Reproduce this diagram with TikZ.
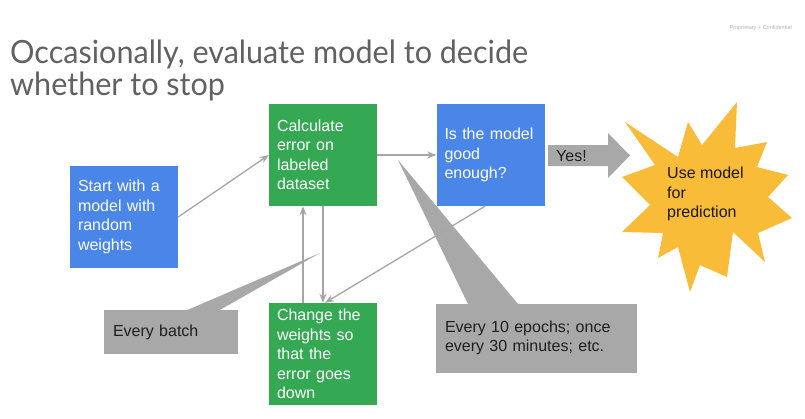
\documentclass[tikz,border=0pt]{standalone}
\usepackage{fontspec}
\setmainfont{Liberation Sans}
\newfontfamily\titlefont[FakeStretch=0.955]{Lato}
\usetikzlibrary{arrows.meta}
\definecolor{gblue}{HTML}{4A86E8}
\definecolor{ggreen}{HTML}{34A853}
\definecolor{ggray}{HTML}{A8A8A8}
\definecolor{lgray}{HTML}{A6A6A6}
\definecolor{gstar}{HTML}{F8BC38}
\definecolor{ttl}{HTML}{616161}
\tikzset{
  box/.style={rectangle, minimum width=108pt, minimum height=102pt, inner xsep=8pt, inner ysep=0pt,
    text width=92pt, align=left, text=white, font=\fontsize{16}{19.5}\selectfont},
  bluebox/.style={box, fill=gblue},
  greenbox/.style={box, fill=ggreen},
  callbox/.style={rectangle, fill=ggray, inner xsep=9pt, inner ysep=0pt, align=left, text=black!88,
    font=\fontsize{16}{19.5}\selectfont},
  conn/.style={draw=lgray, line width=1.3pt, -{Stealth[length=9pt,width=7pt]}},
}
\begin{document}
\begin{tikzpicture}[x=1pt,y=-1pt]
\useasboundingbox (0,0) rectangle (805,418);
% title
\node[anchor=base west, inner sep=0pt, text=ttl, align=left, font=\titlefont\fontsize{32}{32}\selectfont] (title) at (10,95) {Occasionally, evaluate model to decide\\whether to stop};
\node[anchor=base east, inner sep=0pt, text=black!30, font=\fontsize{5.5}{6}\selectfont] (prop) at (792,29) {Proprietary + Confidential};
% callout pointers
\fill[ggray] (185,311) -- (320,253) -- (218,311) -- cycle;
\fill[ggray] (468,304) -- (398,160) -- (518,304) -- cycle;
% boxes
\node[bluebox] (start) at (124,217) {Start with a\\model with\\random\\weights};
\node[greenbox] (calc) at (323,155) {Calculate\\error on\\labeled\\dataset};
\node[bluebox] (good) at (490.5,155) {Is the model\\good\\enough?};
\node[greenbox] (change) at (323,354) {Change the\\weights so\\that the\\error goes\\down};
\node[callbox, minimum width=134pt, minimum height=44pt, text width=116pt] (batch) at (171,332) {Every batch};
\node[callbox, minimum width=201pt, minimum height=69pt, text width=183pt] (epochs) at (536.5,338) {Every 10 epochs; once\\every 30 minutes; etc.};
% yes arrow
\fill[ggray] (548,145) -- (608,145) -- (608,133) -- (630,155.5) -- (608,178) -- (608,166) -- (548,166) -- cycle;
\node[anchor=base west, inner sep=0pt, text=black!88, font=\fontsize{16}{19.5}\selectfont] (yes) at (556,161) {Yes!};
% star
\fill[gstar] (625,122) -- (678,157) -- (688,122) -- (702,145) -- (737,102) -- (735,148) -- (767,142) -- (757,167) -- (788,175) -- (768,197) -- (792,218) -- (758,233) -- (765,262) -- (733,232) -- (727,277) -- (700,265) -- (690,292) -- (678,247) -- (658,258) -- (663,233) -- (622,232) -- (650,205) -- (622,177) -- (655,165) -- cycle;
\node[anchor=west, inner sep=0pt, align=left, text=black!90, font=\fontsize{16}{19.5}\selectfont] (use) at (667,194) {Use model\\for\\prediction};
% connectors
\draw[conn] (start.east) -- (calc.west);
\draw[conn] (calc.east) -- (good.west);
\draw[conn] (calc.south) -- (change.north);
\draw[conn] ([xshift=-20pt]change.north) -- ([xshift=-20pt]calc.south);
\draw[conn] ([xshift=-5.5pt]good.south) -- ([xshift=2pt]change.north);
\end{tikzpicture}
\end{document}
